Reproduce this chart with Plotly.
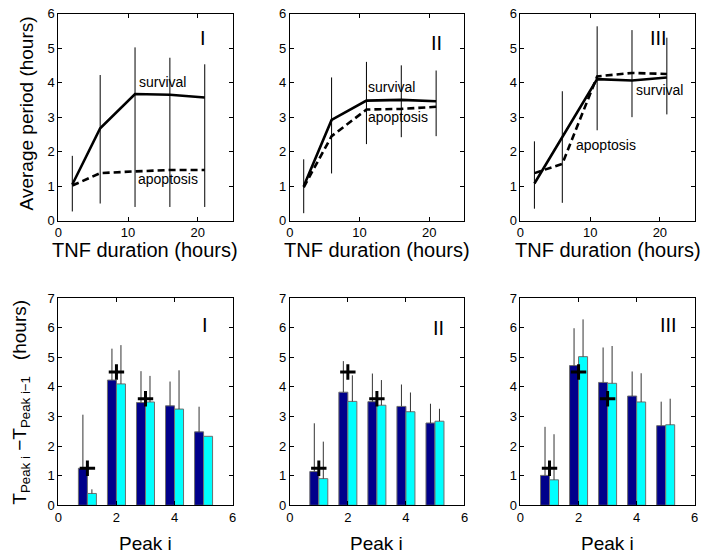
import plotly.graph_objects as go

# ---------------- data ----------------
tnf_hours = [2, 6, 11, 16, 21]

survival_I = [1.05, 2.68, 3.67, 3.65, 3.57]
apoptosis_I = [1.02, 1.38, 1.43, 1.47, 1.47]
range_lo_I = [0.27, 0.50, 0.40, 0.40, 0.40]
range_hi_I = [1.88, 4.22, 5.02, 4.72, 4.53]

survival_II = [1.00, 2.92, 3.48, 3.50, 3.46]
apoptosis_II = [0.97, 2.45, 3.22, 3.24, 3.30]
range_lo_II = [0.22, 1.37, 2.22, 2.42, 2.45]
range_hi_II = [1.78, 4.15, 4.60, 4.50, 4.35]

survival_III = [1.08, 2.42, 4.10, 4.06, 4.15]
apoptosis_III = [1.38, 1.65, 4.18, 4.28, 4.25]
range_lo_III = [0.35, 0.52, 2.62, 3.00, 3.08]
range_hi_III = [2.30, 3.75, 5.63, 5.52, 5.30]

peaks = [1, 2, 3, 4, 5]

dark_I = [1.25, 4.23, 3.47, 3.36, 2.48]
dark_err_I = [1.81, 1.06, 1.06, 0.82, 0.85]
cyan_I = [0.40, 4.10, 3.49, 3.25, 2.33]
cyan_err_I = [0.14, 1.31, 0.88, 1.31, 0.00]

dark_II = [1.14, 3.82, 3.50, 3.34, 2.78]
dark_err_II = [1.63, 1.05, 0.95, 0.74, 0.65]
cyan_II = [0.90, 3.51, 3.38, 3.16, 2.84]
cyan_err_II = [1.25, 0.88, 0.85, 0.65, 0.42]

dark_III = [1.01, 4.72, 4.15, 3.69, 2.69]
dark_err_III = [1.64, 1.26, 1.18, 0.83, 0.81]
cyan_III = [0.86, 5.02, 4.12, 3.49, 2.72]
cyan_err_III = [1.54, 1.26, 1.26, 0.97, 0.88]

plus_x = [1, 2, 3]
plus_y = [1.25, 4.5, 3.6]

top_x_ticks = [0, 10, 20]
top_y_ticks = [0, 1, 2, 3, 4, 5, 6]
bot_x_ticks = [0, 2, 4]
bot_x_end = 6
bot_y_ticks = [0, 1, 2, 3, 4, 5, 6, 7]

panel_labels = ["I", "II", "III"]

# ---------------- figure ----------------
FONT = "Arial, Liberation Sans, Helvetica, sans-serif"
fig = go.Figure()

x_domains = [[0.078, 0.328], [0.410, 0.660], [0.741, 0.991]]
y_top = [0.607, 0.988]
y_bot = [0.084, 0.465]

top_sets = [
    (survival_I, apoptosis_I, range_lo_I, range_hi_I),
    (survival_II, apoptosis_II, range_lo_II, range_hi_II),
    (survival_III, apoptosis_III, range_lo_III, range_hi_III),
]
bot_sets = [
    (dark_I, dark_err_I, cyan_I, cyan_err_I),
    (dark_II, dark_err_II, cyan_II, cyan_err_II),
    (dark_III, dark_err_III, cyan_III, cyan_err_III),
]

for k, (surv, apop, lo, hi) in enumerate(top_sets):
    ax = "" if k == 0 else str(k + 1)
    xs, ys = [], []
    for xv, l, h in zip(tnf_hours, lo, hi):
        xs += [xv, xv, None]
        ys += [l, h, None]
    fig.add_trace(go.Scatter(x=xs, y=ys, mode="lines",
                             line=dict(color="black", width=1),
                             xaxis="x" + ax, yaxis="y" + ax, showlegend=False,
                             hoverinfo="skip"))
    fig.add_trace(go.Scatter(x=tnf_hours, y=apop, mode="lines",
                             line=dict(color="black", width=2.6, dash="7px,4px"),
                             xaxis="x" + ax, yaxis="y" + ax, showlegend=False))
    fig.add_trace(go.Scatter(x=tnf_hours, y=surv, mode="lines",
                             line=dict(color="black", width=2.6),
                             xaxis="x" + ax, yaxis="y" + ax, showlegend=False))

for k, (dk, dke, cy, cye) in enumerate(bot_sets):
    ax = str(k + 4)
    fig.add_trace(go.Bar(x=peaks, y=dk, width=0.31, offset=-0.31,
                         marker=dict(color="#00008B", line=dict(color="#6e6e6e", width=1)),
                         error_y=dict(type="data", array=dke, arrayminus=[0] * len(dke),
                                      symmetric=False, width=0, thickness=1, color="#333333"),
                         xaxis="x" + ax, yaxis="y" + ax, showlegend=False))
    fig.add_trace(go.Bar(x=peaks, y=cy, width=0.31, offset=0,
                         marker=dict(color="#00FFFF", line=dict(color="#6e6e6e", width=1)),
                         error_y=dict(type="data", array=cye, arrayminus=[0] * len(cye),
                                      symmetric=False, width=0, thickness=1, color="#333333"),
                         xaxis="x" + ax, yaxis="y" + ax, showlegend=False))
    fig.add_trace(go.Scatter(x=plus_x, y=plus_y, mode="markers",
                             marker=dict(symbol="cross-thin", size=11, color="black",
                                         line=dict(color="black", width=3)),
                             xaxis="x" + ax, yaxis="y" + ax, showlegend=False))

axis_common = dict(showline=True, linecolor="black", linewidth=1, mirror="ticks",
                   ticks="inside", ticklen=4, tickcolor="black", showgrid=False,
                   zeroline=False, tickfont=dict(family=FONT, size=13, color="black"),
                   ticklabeloverflow="allow", fixedrange=True, tickmode="array")

layout = dict(width=701, height=559, margin=dict(l=0, r=0, t=0, b=0),
              paper_bgcolor="white", plot_bgcolor="white", barmode="overlay",
              font=dict(family=FONT, color="black"))

for k in range(6):
    idx = "" if k == 0 else str(k + 1)
    col = k % 3
    top = k < 3
    layout["xaxis" + idx] = dict(axis_common, domain=x_domains[col],
                                 anchor="y" + idx,
                                 range=[0, 25] if top else [0, bot_x_end],
                                 tickvals=top_x_ticks if top else bot_x_ticks)
    layout["yaxis" + idx] = dict(axis_common, domain=y_top if top else y_bot,
                                 anchor="x" + idx,
                                 range=[0, 6] if top else [0, 7],
                                 tickvals=top_y_ticks if top else bot_y_ticks)

fig.update_layout(**layout)

ann = []
# in-panel text
top_text = [
    [("survival", 15.0, 4.02), ("apoptosis", 15.8, 1.2)],
    [("survival", 14.6, 3.88), ("apoptosis", 15.5, 3.0)],
    [("survival", 19.9, 3.78), ("apoptosis", 12.2, 2.19)],
]
roman_top = [(20.7, 5.28), (21.0, 5.15), (19.8, 5.28)]
roman_bot = [(5.05, 6.08), (5.12, 6.0), (5.08, 6.08)]
for k in range(3):
    ax = "" if k == 0 else str(k + 1)
    for txt, xv, yv in top_text[k]:
        ann.append(dict(text=txt, x=xv, y=yv, xref="x" + ax, yref="y" + ax,
                        showarrow=False, font=dict(family=FONT, size=14, color="black")))
    ann.append(dict(text=panel_labels[k], x=roman_top[k][0], y=roman_top[k][1],
                    xref="x" + ax, yref="y" + ax, showarrow=False,
                    font=dict(family=FONT, size=20, color="black")))
    bx = str(k + 4)
    ann.append(dict(text=panel_labels[k], x=roman_bot[k][0], y=roman_bot[k][1],
                    xref="x" + bx, yref="y" + bx, showarrow=False,
                    font=dict(family=FONT, size=20, color="black")))
    # end tick label of the bottom x axes (plotly hides it when it sits at the range end)
    ann.append(dict(text=str(bot_x_end), x=bot_x_end, y=0, xref="x" + bx, yref="y" + bx,
                    xanchor="center", yanchor="top", yshift=-3, showarrow=False,
                    font=dict(family=FONT, size=13, color="black")))
    xc = (x_domains[k][0] + x_domains[k][1]) / 2
    ann.append(dict(text="TNF duration (hours)", x=xc, y=0.553, xref="paper", yref="paper",
                    xanchor="center", yanchor="middle", showarrow=False,
                    font=dict(family=FONT, size=20, color="black")))
    ann.append(dict(text="Peak i", x=xc, y=0.014, xref="paper", yref="paper",
                    xanchor="center", yanchor="middle", showarrow=False,
                    font=dict(family=FONT, size=19, color="black")))

ann.append(dict(text="Average period (hours)", x=0.032, y=0.805, xref="paper", yref="paper",
                xanchor="center", yanchor="middle", textangle=-90, showarrow=False,
                font=dict(family=FONT, size=19, color="black")))
ann.append(dict(text="T<sub>Peak i</sub> \u2212T<sub>Peak i\u22121</sub>   (hours)",
                x=0.024, y=0.274, xref="paper", yref="paper",
                xanchor="center", yanchor="middle", textangle=-90, showarrow=False,
                font=dict(family=FONT, size=19, color="black")))

fig.update_layout(annotations=ann)
fig.write_html("out.html", config={"displayModeBar": False},
               post_script="document.body.style.margin='0';document.body.style.overflow='hidden';")
